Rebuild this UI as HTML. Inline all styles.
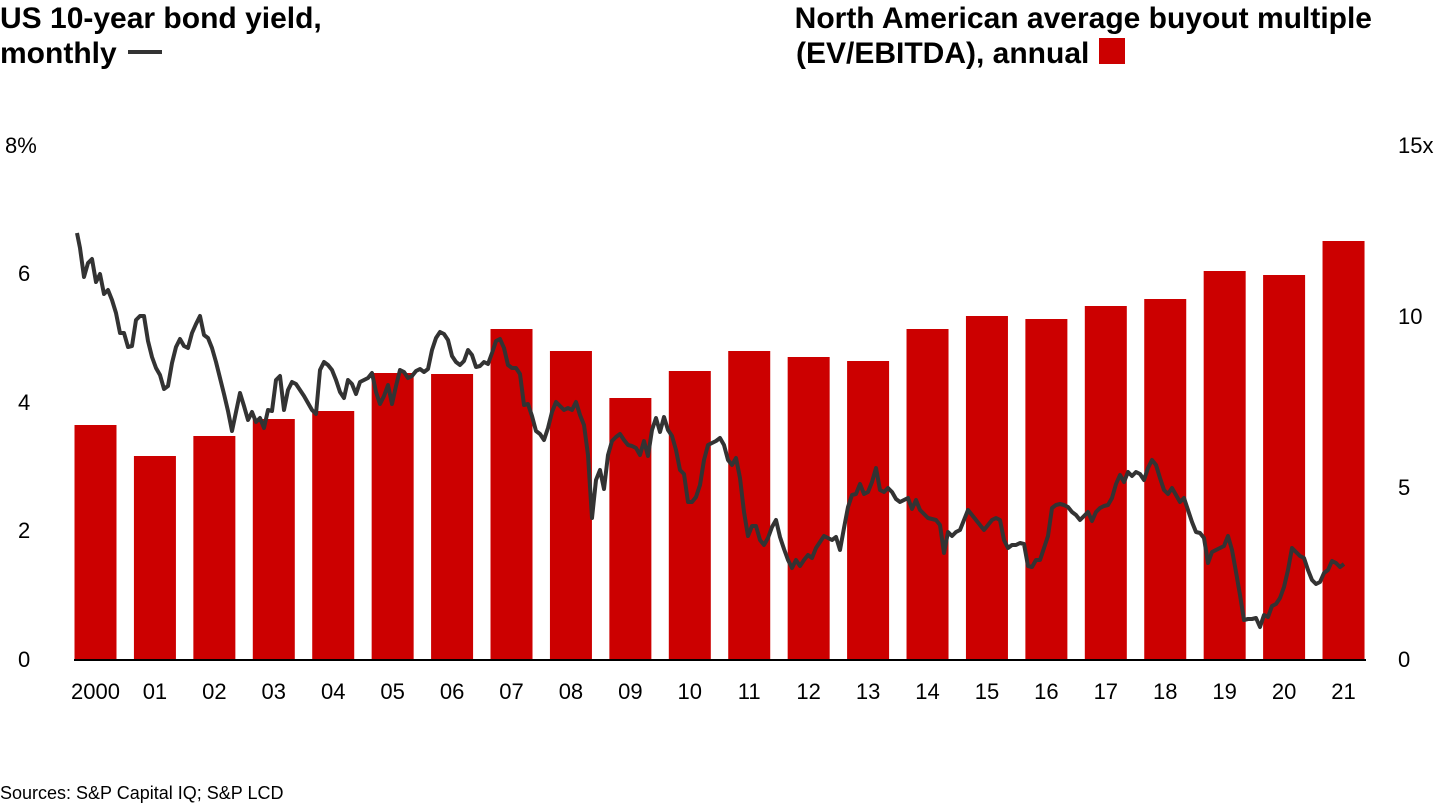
<!DOCTYPE html>
<html><head><meta charset="utf-8"><style>
html,body{margin:0;padding:0;background:#fff;width:1440px;height:810px;overflow:hidden}
svg{display:block;font-family:"Liberation Sans",Arial,sans-serif}
</style></head><body>
<svg width="1440" height="810" viewBox="0 0 1440 810">
<g font-weight="bold" font-size="30" fill="#000">
<text x="0" y="28">US 10-year bond yield,</text>
<text x="0" y="63">monthly</text>
<text x="1372" y="28" text-anchor="end">North American average buyout multiple</text>
<text x="796" y="63">(EV/EBITDA), annual</text>
</g>
<line x1="128" y1="52" x2="162" y2="52" stroke="#333" stroke-width="4"/>
<rect x="1099" y="38" width="26" height="26" fill="#cc0000"/>
<g font-size="22" fill="#000">
<text x="5" y="153">8%</text>
<text x="18" y="281">6</text>
<text x="18" y="410">4</text>
<text x="18" y="538">2</text>
<text x="18" y="667">0</text>
<text x="1398" y="153">15x</text>
<text x="1398" y="324">10</text>
<text x="1398" y="495">5</text>
<text x="1398" y="667">0</text>
</g>
<g fill="#cc0000" id="bars"></g>
<line x1="74" y1="660" x2="1366" y2="660" stroke="#000" stroke-width="2"/>
<g font-size="22" fill="#000" text-anchor="middle" id="xl"></g>
<polyline id="ln" fill="none" stroke="#333" stroke-width="4" stroke-linejoin="round" points="77,233 80,248 84,277 88,263 92,259 96,282 100,274 104,294 108,290 112,300 116,313 120,333 124,333 128,347 132,346 136,320 140,316 144,316 148,341 152,357 156,368 160,375 164,389 168,386 172,363 176,347 180,339 184,346 188,348 192,333 196,324 200,316 204,335 208,338 212,348 216,362 220,378 224,394 228,411 232,431 236,412 240,393 244,406 248,420 252,412 256,422 260,418 264,428 268,410 272,411 276,380 280,376 284,410 288,390 292,382 296,384 300,390 304,396 308,403 312,410 316,414 320,370 324,362 328,365 332,370 336,380 340,392 344,398 348,380 352,384 356,394 360,382 364,380 368,378 372,373 376,392 380,404 384,396 388,385 392,404 396,386 400,370 404,372 408,378 412,376 416,371 420,369 424,372 428,369 432,350 436,338 440,332 444,334 448,340 452,356 456,362 460,365 464,361 468,350 472,355 476,367 480,366 484,362 488,364 492,353 496,341 500,339 504,348 508,365 512,368 516,368 520,374 524,405 528,404 532,416 536,431 540,434 544,440 548,428 552,412 556,402 560,406 564,410 568,408 572,410 576,402 580,415 584,425 588,455 592,518 596,480 600,470 604,489 608,455 612,441 616,437 620,434 624,440 628,445 632,446 636,448 640,455 644,441 648,456 652,430 656,418 660,432 664,417 668,430 672,436 676,450 680,470 684,474 688,502 692,502 696,497 700,485 704,460 708,445 712,443 716,441 720,438 724,445 728,460 732,465 736,458 740,478 744,512 748,536 752,526 756,526 760,540 764,545 768,538 772,527 776,520 780,537 784,549 788,560 792,568 796,560 800,566 804,560 808,555 812,558 816,548 820,542 824,536 828,538 832,540 836,537 840,550 844,528 848,507 852,495 856,494 860,484 864,494 868,492 872,482 876,468 880,490 884,492 888,488 892,492 896,499 900,502 904,500 908,498 912,509 916,500 920,510 924,514 928,518 932,519 936,520 940,525 944,553 948,532 952,536 956,532 960,530 964,520 968,510 972,515 976,520 980,525 984,530 988,525 992,520 996,518 1000,520 1004,540 1008,548 1012,545 1016,545 1020,543 1024,544 1028,566 1032,567 1036,560 1040,560 1044,548 1048,536 1052,508 1056,505 1060,504 1064,505 1068,507 1072,512 1076,515 1080,520 1084,516 1088,512 1092,521 1096,512 1100,508 1104,506 1108,505 1112,498 1116,484 1120,475 1124,482 1128,472 1132,476 1136,472 1140,474 1144,480 1148,468 1152,460 1156,465 1160,478 1164,490 1168,494 1172,488 1176,495 1180,502 1184,498 1188,510 1192,522 1196,532 1200,533 1204,538 1208,563 1212,552 1216,550 1220,548 1224,546 1228,536 1232,550 1236,572 1240,595 1244,620 1248,619 1252,619 1256,618 1260,627 1264,615 1268,617 1272,606 1276,604 1280,598 1284,587 1288,570 1292,548 1296,552 1300,556 1304,558 1308,570 1312,580 1316,584 1320,582 1324,573 1328,570 1332,561 1336,563 1340,567 1344,564"/>
<text x="0" y="799" font-size="18" fill="#000">Sources: S&amp;P Capital IQ; S&amp;P LCD</text>
</svg>
<script>
var tops=[425,456,436,419,411,373,374,329,351,398,371,351,357,361,329,316,319,306,299,271,275,241];
var labs=["2000","01","02","03","04","05","06","07","08","09","10","11","12","13","14","15","16","17","18","19","20","21"];
var ns="http://www.w3.org/2000/svg",b=document.getElementById("bars"),xl=document.getElementById("xl");
for(var i=0;i<22;i++){var c=95.5+i*59.43;
var r=document.createElementNS(ns,"rect");r.setAttribute("x",c-21);r.setAttribute("y",tops[i]);r.setAttribute("width",42);r.setAttribute("height",660-tops[i]);b.appendChild(r);
var t=document.createElementNS(ns,"text");t.setAttribute("x",c);t.setAttribute("y",699);t.textContent=labs[i];xl.appendChild(t);}
</script>
</body></html>
